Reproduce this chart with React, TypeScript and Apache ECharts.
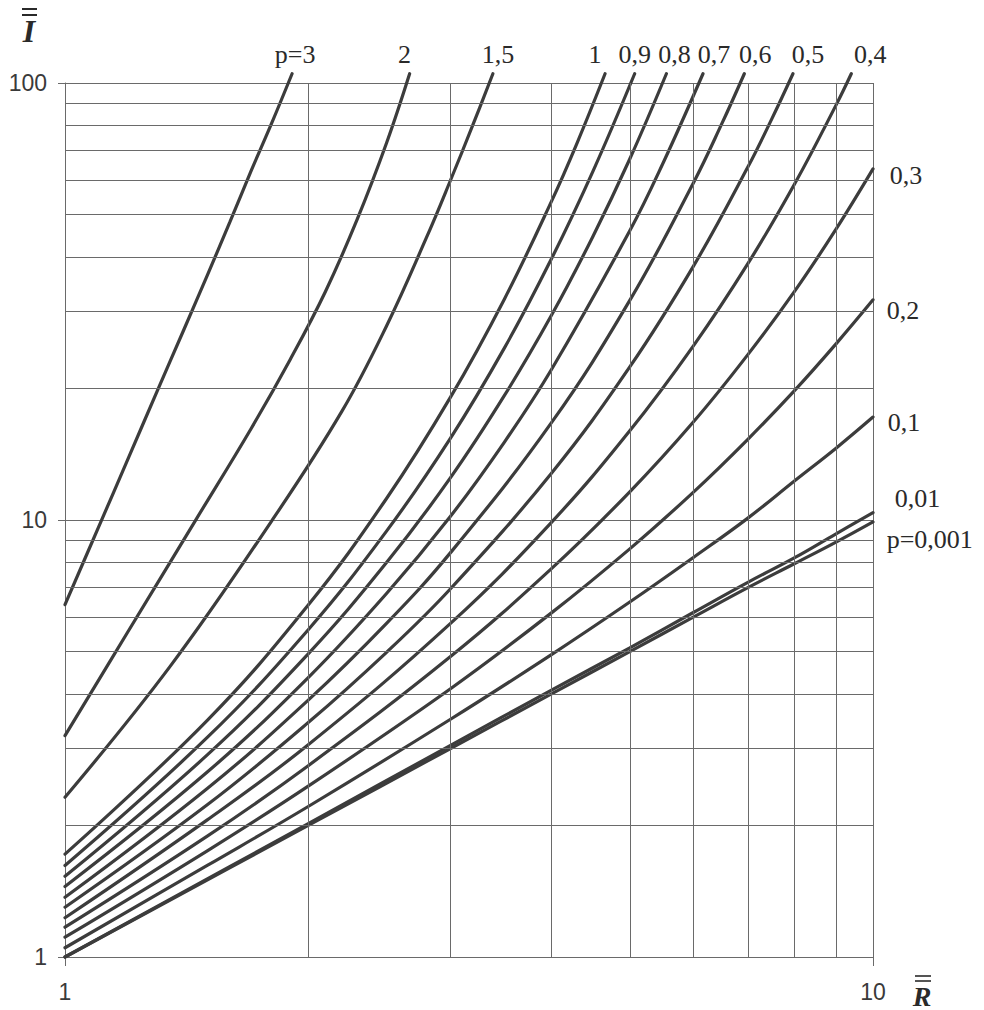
import React, { useEffect, useRef } from "react";
import * as echarts from "echarts";

// Minor grid values of the log-log paper
const X_MINOR = [2, 3, 4, 5, 6, 7, 8, 9];
const Y_MINOR = [2, 3, 4, 5, 6, 7, 8, 9, 20, 30, 40, 50, 60, 70, 80, 90];

// Curves: R values and I values
const P3_R = [1, 1.1, 1.2, 1.3, 1.4, 1.5, 1.6, 1.7, 1.8, 1.91];
const P3_I = [6.4, 9.62, 13.96, 19.7, 27.0, 36.3, 48.1, 63.0, 80.5, 105];

const P2_R = [1, 1.2, 1.45, 1.7, 1.9, 2.1, 2.3, 2.5, 2.67];
const P2_I = [3.21, 5.6, 9.97, 16.2, 23.3, 33.3, 48.8, 72.9, 105];

const P15_R = [1, 1.35, 1.8, 2.2, 2.5, 2.8, 3.0, 3.2, 3.385];
const P15_I = [2.32, 4.63, 9.92, 17.7, 27.8, 44.2, 59.9, 80.5, 105];

const P1_R = [1, 1.5, 2, 2.5, 3, 3.5, 4, 4.3, 4.66];
const P1_I = [1.72, 3.48, 6.39, 11.2, 19.1, 32.1, 53.6, 72.7, 105];

const P09_R = [1, 1.5, 2, 2.5, 3, 3.5, 4, 4.5, 5.07];
const P09_I = [1.62, 3.18, 5.61, 9.43, 15.4, 24.8, 39.6, 62.7, 105];

const P08_R = [1, 1.5, 2, 2.5, 3, 3.5, 4, 4.5, 5, 5.55];
const P08_I = [1.53, 2.9, 4.94, 7.99, 12.5, 19.3, 29.4, 44.5, 67, 105];

const P07_R = [1, 1.5, 2, 2.5, 3, 3.5, 4, 5, 5.5, 6.16];
const P07_I = [1.45, 2.65, 4.36, 6.79, 10.2, 15.1, 22.1, 45.9, 65.7, 105];

const P06_R = [1, 1.5, 2, 2.5, 3, 4, 5, 6, 6.5, 6.93];
const P06_I = [1.37, 2.43, 3.87, 5.8, 8.42, 16.7, 31.8, 59.3, 80.7, 105];

const P05_R = [1, 1.5, 2, 2.5, 3, 4, 5, 6, 7, 7.5, 7.96];
const P05_I = [1.3, 2.23, 3.44, 4.98, 6.96, 12.8, 22.4, 38.2, 64.2, 83, 105];

const P04_R = [1, 1.5, 2, 3, 4, 5, 6, 7, 8, 9, 9.4];
const P04_I = [1.23, 2.06, 3.06, 5.8, 9.88, 16, 25.1, 38.6, 58.8, 89, 105];

const P03_R = [1, 1.5, 2, 3, 4, 5, 6, 7, 8, 9, 10];
const P03_I = [1.17, 1.89, 2.74, 4.87, 7.74, 11.6, 16.8, 23.9, 33.4, 46.3, 63.6];

const P02_R = [1, 1.5, 2, 3, 4, 5, 6, 7, 8, 9, 10];
const P02_I = [1.11, 1.75, 2.46, 4.11, 6.13, 8.59, 11.6, 15.3, 19.8, 25.3, 31.9];

const P01_R = [1, 1.5, 2, 3, 4, 5, 6, 7, 8, 9, 10];
const P01_I = [1.05, 1.62, 2.21, 3.5, 4.92, 6.49, 8.22, 10.1, 12.3, 14.6, 17.2];

const P001_R = [1, 2, 3, 4, 5, 6, 7, 8, 9, 10];
const P001_I = [1.0, 2.02, 3.05, 4.08, 5.1, 6.15, 7.2, 8.2, 9.3, 10.4];

const P0001_R = [1, 2, 3, 4, 5, 6, 7, 8, 9, 10];
const P0001_I = [1.0, 2.0, 3.0, 4.0, 5.0, 6.0, 7.0, 7.95, 8.9, 9.9];

const CURVE_LABELS = [
  "p=3", "2", "1,5", "1", "0,9", "0,8", "0,7", "0,6", "0,5", "0,4",
  "0,3", "0,2", "0,1", "0,01", "p=0,001",
];
const CURVE_R = [P3_R, P2_R, P15_R, P1_R, P09_R, P08_R, P07_R, P06_R, P05_R, P04_R, P03_R, P02_R, P01_R, P001_R, P0001_R];
const CURVE_I = [P3_I, P2_I, P15_I, P1_I, P09_I, P08_I, P07_I, P06_I, P05_I, P04_I, P03_I, P02_I, P01_I, P001_I, P0001_I];

// label placement (style only)
const LABEL_AT_TOP = [true, true, true, true, true, true, true, true, true, true, false, false, false, false, false];
const LABEL_OFFSETS: number[][] = [
  [3, -29], [-5, -29], [5, -29], [-10, -29], [0, -29], [8, -29], [11, -29], [11, -29], [15, -29], [19, -29],
  [17, 7], [14, 11], [15, 5], [22, -14], [14, 18],
];

const LINE_COLOR = "#3c3c3c";
const GRID_COLOR = "#6a6a6a";
const TEXT_COLOR = "#2a2a2a";
const TICK_TEXT = "#3a3a3a";

export default function App() {
  const ref = useRef<HTMLDivElement>(null);

  useEffect(() => {
    if (!ref.current) return;
    const chart = echarts.init(ref.current, null, { renderer: "svg" });

    const curveSeries = CURVE_LABELS.map((lab, k) => {
      const data = CURVE_R[k].map((r, j) => [r, CURVE_I[k][j]]);
      const last = data[data.length - 1];
      const anchor = LABEL_AT_TOP[k] ? [last[0], 99.9] : [9.99, last[1]];
      return {
        type: "line",
        name: lab,
        data,
        smooth: 0.4,
        symbol: "none",
        showSymbol: false,
        clip: false,
        z: 3,
        silent: true,
        lineStyle: { color: LINE_COLOR, width: 3.2, cap: "round" },
        markPoint: {
          symbol: "circle",
          symbolSize: 0.1,
          silent: true,
          itemStyle: { color: "rgba(0,0,0,0)" },
          data: [{ coord: anchor }],
          label: {
            show: true,
            position: "inside",
            formatter: lab,
            align: LABEL_AT_TOP[k] ? "center" : "left",
            verticalAlign: "middle",
            offset: LABEL_OFFSETS[k],
            color: TEXT_COLOR,
            fontSize: 26,
            fontFamily: "Liberation Serif",
          },
        },
      };
    });

    const gridSeries = {
      type: "line",
      name: "grid",
      data: [[1, 1]],
      symbol: "none",
      showSymbol: false,
      silent: true,
      z: 1,
      lineStyle: { width: 0, opacity: 0 },
      markLine: {
        silent: true,
        symbol: ["none", "none"],
        label: { show: false },
        lineStyle: { color: GRID_COLOR, width: 1, type: "solid" },
        emphasis: { disabled: true },
        data: [
          ...X_MINOR.map((v) => ({ xAxis: v })),
          ...Y_MINOR.map((v) => ({ yAxis: v })),
        ],
      },
    };

    const option: any = {
      animation: false,
      backgroundColor: "#ffffff",
      grid: { left: 65, right: 111, top: 83, bottom: 53, containLabel: false, outerBoundsMode: "none" },
      xAxis: {
        type: "log",
        logBase: 10,
        min: 1,
        max: 10,
        axisLine: { show: true, lineStyle: { color: GRID_COLOR, width: 1 } },
        axisTick: { show: true, length: 9, lineStyle: { color: GRID_COLOR, width: 1 } },
        splitLine: { show: true, lineStyle: { color: GRID_COLOR, width: 1 } },
        minorTick: { show: false },
        axisLabel: {
          color: TICK_TEXT,
          fontSize: 23,
          fontFamily: "Liberation Sans",
          margin: 23,
          showMinLabel: true,
          showMaxLabel: true,
        },
      },
      yAxis: {
        type: "log",
        logBase: 10,
        min: 1,
        max: 100,
        axisLine: { show: true, lineStyle: { color: GRID_COLOR, width: 1 } },
        axisTick: { show: true, length: 7, lineStyle: { color: GRID_COLOR, width: 1 } },
        splitLine: { show: true, lineStyle: { color: GRID_COLOR, width: 1 } },
        minorTick: { show: false },
        axisLabel: {
          color: TICK_TEXT,
          fontSize: 23,
          fontFamily: "Liberation Sans",
          margin: 18,
          showMinLabel: true,
          showMaxLabel: true,
        },
      },
      graphic: [
        {
          type: "text",
          x: 29,
          y: 31,
          style: {
            text: "I",
            font: "italic bold 32px 'Liberation Serif'",
            fill: TEXT_COLOR,
            align: "center",
            verticalAlign: "middle",
            lineHeight: 26,
          },
        },
        { type: "line", shape: { x1: 22, y1: 9, x2: 37, y2: 9 }, style: { stroke: TEXT_COLOR, lineWidth: 2 } },
        { type: "line", shape: { x1: 22, y1: 15, x2: 37, y2: 15 }, style: { stroke: TEXT_COLOR, lineWidth: 2 } },
        {
          type: "text",
          x: 922,
          y: 996,
          style: {
            text: "R",
            font: "italic bold 28px 'Liberation Serif'",
            fill: TEXT_COLOR,
            align: "center",
            verticalAlign: "middle",
            lineHeight: 22,
          },
        },
        { type: "line", shape: { x1: 915, y1: 976, x2: 931, y2: 976 }, style: { stroke: TEXT_COLOR, lineWidth: 1.6 } },
        { type: "line", shape: { x1: 915, y1: 981, x2: 931, y2: 981 }, style: { stroke: TEXT_COLOR, lineWidth: 1.6 } },
      ],
      series: [gridSeries, ...curveSeries],
    };

    chart.setOption(option);
    return () => chart.dispose();
  }, []);

  return (
    <div
      ref={ref}
      style={{ position: "fixed", left: 0, top: 0, width: 984, height: 1010, background: "#fff" }}
    />
  );
}
